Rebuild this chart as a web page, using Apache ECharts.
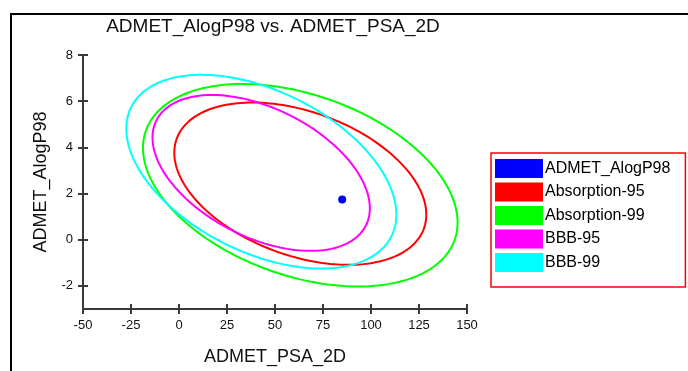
<!DOCTYPE html>
<html>
<head>
<meta charset="utf-8">
<script src="https://cdn.jsdelivr.net/npm/echarts@6/dist/echarts.min.js"></script>
<style>
html,body{margin:0;padding:0;background:#fff;}
#chart{width:688px;height:371px;}
</style>
</head>
<body>
<div id="chart"></div>
<script>
// ---- data ----
const titleText = 'ADMET_AlogP98 vs. ADMET_PSA_2D';
const xAxisName = 'ADMET_PSA_2D';
const yAxisName = 'ADMET_AlogP98';
const xTicks = [-50, -25, 0, 25, 50, 75, 100, 125, 150];
const yTicks = [-3, -2, 0, 2, 4, 6, 8];

// single compound point
const pointName = 'ADMET_AlogP98';
const pointX = [85];
const pointY = [1.74];

// confidence ellipses: extreme points
const ellipseNames = ['Absorption-95', 'Absorption-99', 'BBB-95', 'BBB-99'];
const ellipseColors = ['#ff0000', '#00ff00', '#ff00ff', '#00ffff'];
const ellipseXMin = [-2.45, -18.75, -13.8, -27.45];
const ellipseYAtXMin = [3.82, 3.99, 4.31, 4.76];
const ellipseXMax = [128.8, 145.1, 99.4, 113.2];
const ellipseYAtXMax = [1.14, 0.76, 1.25, 1.04];
const ellipseYMax = [5.89, 6.73, 6.38, 7.19];
const ellipseYMin = [-1.14, -2.04, -0.37, -1.2];

// ---- build ellipse outlines from their measured extremes ----
function ellipseOutline(i) {
  const cx = (ellipseXMin[i] + ellipseXMax[i]) / 2;
  const A = (ellipseXMax[i] - ellipseXMin[i]) / 2;
  const cy = ((ellipseYAtXMin[i] + ellipseYAtXMax[i]) / 2 + (ellipseYMax[i] + ellipseYMin[i]) / 2) / 2;
  const B = (ellipseYAtXMax[i] - ellipseYAtXMin[i]) / 2;
  const R = (ellipseYMax[i] - ellipseYMin[i]) / 2;
  const C = Math.sqrt(Math.max(R * R - B * B, 0.01));
  const pts = [];
  const n = 180;
  for (let k = 0; k <= n; k++) {
    const t = 2 * Math.PI * k / n;
    pts.push([cx + A * Math.cos(t), cy + B * Math.cos(t) + C * Math.sin(t)]);
  }
  return pts;
}

const FONT = 'Liberation Sans';
const axisColor = '#3a3a3a';
const yTickValues = yTicks.slice(1);

const series = [{
  name: pointName,
  type: 'scatter',
  data: pointX.map((x, i) => [x, pointY[i]]),
  symbol: 'circle',
  symbolSize: 8,
  itemStyle: { color: '#0000ff', opacity: 1 },
  z: 5
}];
ellipseNames.forEach((nm, i) => {
  series.push({
    name: nm,
    type: 'line',
    data: ellipseOutline(i),
    showSymbol: false,
    symbol: 'none',
    smooth: false,
    lineStyle: { color: ellipseColors[i], width: 2 },
    itemStyle: { color: ellipseColors[i], opacity: 1 },
    animation: false,
    z: 3
  });
});

const legendData = [pointName].concat(ellipseNames).map((nm, i) => ({
  name: nm,
  icon: 'rect',
  itemStyle: { color: i === 0 ? '#0000ff' : ellipseColors[i - 1], borderWidth: 0, opacity: 1 }
}));

const tickStyle = { color: axisColor, width: 2 };

const chart = echarts.init(document.getElementById('chart'), null, { renderer: 'canvas' });
chart.setOption({
  animation: false,
  backgroundColor: '#ffffff',
  textStyle: { fontFamily: FONT },
  title: {
    text: titleText,
    left: 268,
    textAlign: 'center',
    top: 12,
    textStyle: { fontFamily: FONT, fontSize: 19, fontWeight: 'normal', color: '#111' }
  },
  graphic: [{
    type: 'rect',
    shape: { x: 11, y: 14, width: 720, height: 400 },
    style: { fill: 'none', stroke: '#000', lineWidth: 2 },
    silent: true,
    z: -1
  }],
  legend: {
    orient: 'vertical',
    left: 491,
    top: 153,
    padding: [6, 15, 15, 4],
    itemWidth: 48,
    itemHeight: 19,
    itemGap: 4.5,
    borderColor: '#ff0000',
    borderWidth: 1.5,
    backgroundColor: '#fff',
    data: legendData,
    textStyle: { fontFamily: FONT, fontSize: 16, color: '#000', padding: [0, 0, 0, -3] }
  },
  grid: { left: 83, right: 221, top: 55, bottom: 56, containLabel: false },
  xAxis: [{
    type: 'value',
    position: 'bottom',
    min: xTicks[0],
    max: xTicks[xTicks.length - 1],
    interval: 25,
    name: xAxisName,
    nameLocation: 'middle',
    nameGap: 39,
    nameTextStyle: { fontFamily: FONT, fontSize: 18, color: '#111' },
    axisLine: { show: true, onZero: false, lineStyle: { color: axisColor, width: 2 } },
    axisTick: { show: true, inside: false, length: 5, lineStyle: tickStyle },
    axisLabel: { fontFamily: FONT, fontSize: 13, color: '#111', margin: 10 },
    splitLine: { show: false }
  }, {
    type: 'value',
    position: 'bottom',
    min: xTicks[0],
    max: xTicks[xTicks.length - 1],
    interval: 25,
    axisLine: { show: false, onZero: false },
    axisTick: { show: true, inside: true, length: 5, lineStyle: tickStyle },
    axisLabel: { show: false },
    splitLine: { show: false }
  }],
  yAxis: [{
    type: 'value',
    position: 'left',
    min: yTicks[0],
    max: yTicks[yTicks.length - 1],
    axisLabel: { customValues: yTickValues, fontFamily: FONT, fontSize: 13, color: '#111', margin: 10 },
    axisTick: { customValues: yTickValues, show: true, inside: false, length: 5, lineStyle: tickStyle },
    name: yAxisName,
    nameLocation: 'middle',
    nameGap: 33,
    nameTextStyle: { fontFamily: FONT, fontSize: 18, color: '#111' },
    axisLine: { show: true, onZero: false, lineStyle: { color: axisColor, width: 2 } },
    splitLine: { show: false }
  }, {
    type: 'value',
    position: 'left',
    min: yTicks[0],
    max: yTicks[yTicks.length - 1],
    axisLine: { show: false, onZero: false },
    axisLabel: { show: false },
    axisTick: { customValues: yTickValues, show: true, inside: true, length: 5, lineStyle: tickStyle },
    splitLine: { show: false }
  }],
  series: series
});
</script>
</body>
</html>
